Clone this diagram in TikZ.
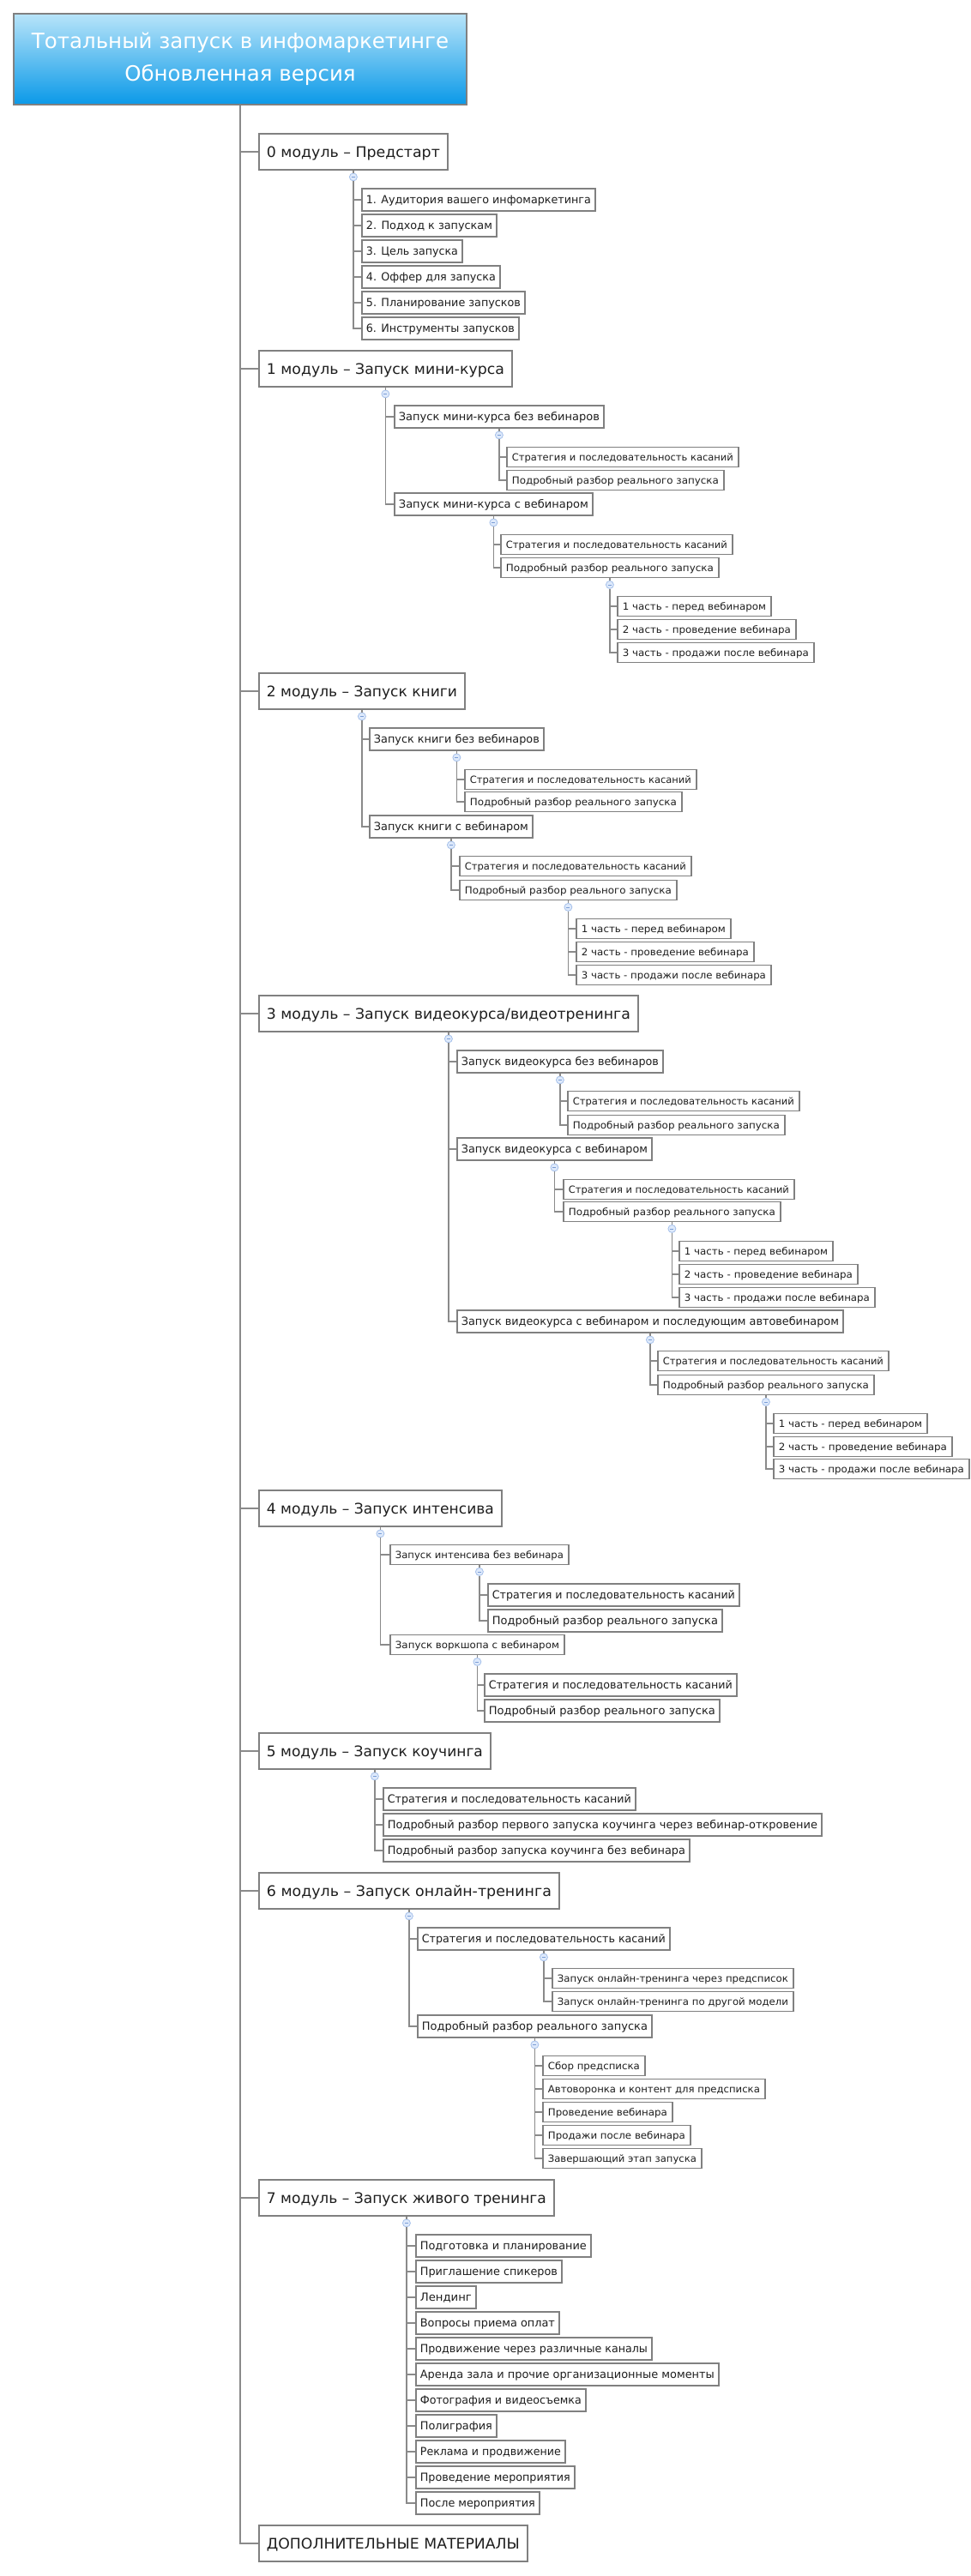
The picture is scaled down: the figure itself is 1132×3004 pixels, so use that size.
\documentclass[tikz,border=0pt]{standalone}
\usepackage{fontspec}
\setmainfont{DejaVu Sans}
\usepackage{graphicx}
\definecolor{bordergray}{HTML}{808080}
\definecolor{linegray}{HTML}{8A8A8A}
\definecolor{txt}{HTML}{1E1E1E}
\definecolor{togfill}{HTML}{DDE9FB}
\definecolor{togdraw}{HTML}{A5C0EA}
\definecolor{togdash}{HTML}{7C9ED6}
\definecolor{titletop}{HTML}{B8E4F9}
\definecolor{titlebot}{HTML}{0A99E8}
\tikzset{
  boxbase/.style={draw=bordergray, line width=1.8pt, fill=white, anchor=west, inner xsep=0pt, inner ysep=0pt, text=txt},
  modbox/.style={boxbase, minimum height=42pt, font=\fontsize{17}{20}\selectfont, text height=12.4pt, text depth=0pt},
  cabox/.style={boxbase, minimum height=26pt, font=\fontsize{13}{15}\selectfont, text height=9.5pt, text depth=0pt},
  cbbox/.style={boxbase, minimum height=23pt, font=\fontsize{11.5}{13}\selectfont, text height=8.4pt, text depth=0pt},
  titlebox/.style={draw=bordergray, line width=2pt, top color=titletop, bottom color=titlebot, minimum width=528pt, minimum height=106pt, text=white, align=center, inner sep=0pt, font=\fontsize{24.5}{38}\selectfont},
  spine/.style={draw=linegray, line width=2pt},
  conn/.style={draw=linegray, line width=1.5pt},
  togg/.style={circle, minimum size=9pt, inner sep=0pt, draw=togdraw, fill=togfill, line width=0.8pt,
    path picture={\draw[togdash, line width=0.8pt] ([xshift=-2pt]path picture bounding box.center) -- ([xshift=2pt]path picture bounding box.center);}},
}
% style, name, x1, x2, y, text, pad
\newcommand\bx[7]{\node[#1] (#2) at (#3,#5) {\hbox to \dimexpr #4pt-#3pt\relax{\hskip #7pt\resizebox{\dimexpr #4pt-#3pt-#7pt-#7pt\relax}{\height}{#6}\hss}};}
\newcommand\Mb[5]{\bx{modbox}{#1}{#2}{#3}{#4}{#5}{9}}
\newcommand\Ab[5]{\bx{cabox}{#1}{#2}{#3}{#4}{#5}{5}}
\newcommand\Bb[5]{\bx{cbbox}{#1}{#2}{#3}{#4}{#5}{6}}
\newcommand\tog[1]{\node[togg] (#1t) at ([yshift=-7.5pt]#1.south) {};\draw[conn] (#1.south) -- (#1t.north);}
\newcommand\kids[2]{\foreach \k in {#2} {\draw[conn] (#1t.south) |- (\k.west);}}
\begin{document}
\begin{tikzpicture}[x=1pt,y=-1pt]
\fill[white] (0,0) rectangle (1132,3004);
\useasboundingbox (0,0) rectangle (1132,3004);

\node[titlebox] (title) at (280,69) {Тотальный запуск в инфомаркетинге\\Обновленная версия};

% module 0
\Mb{m0}{301}{521}{177}{0 модуль – Предстарт}
\Ab{a01}{421}{693}{233}{1. Аудитория вашего инфомаркетинга}
\Ab{a02}{421}{578}{263}{2. Подход к запускам}
\Ab{a03}{421}{538}{293}{3. Цель запуска}
\Ab{a04}{421}{582}{323}{4. Оффер для запуска}
\Ab{a05}{421}{611}{353}{5. Планирование запусков}
\Ab{a06}{421}{604}{383}{6. Инструменты запусков}
\tog{m0}\kids{m0}{a01,a02,a03,a04,a05,a06}

% module 1
\Mb{m1}{301}{596}{430}{1 модуль – Запуск мини-курса}
\Ab{m1a}{459}{703}{486}{Запуск мини-курса без вебинаров}
\Bb{m1a1}{590}{860}{533}{Стратегия и последовательность касаний}
\Bb{m1a2}{590}{843}{560}{Подробный разбор реального запуска}
\Ab{m1b}{459}{690}{588}{Запуск мини-курса с вебинаром}
\Bb{m1b1}{583}{853}{635}{Стратегия и последовательность касаний}
\Bb{m1b2}{583}{837}{662}{Подробный разбор реального запуска}
\Bb{m1b2a}{719}{898}{707}{1 часть - перед вебинаром}
\Bb{m1b2b}{719}{927}{734}{2 часть - проведение вебинара}
\Bb{m1b2c}{719}{948}{761}{3 часть - продажи после вебинара}
\tog{m1}\kids{m1}{m1a,m1b}
\tog{m1a}\kids{m1a}{m1a1,m1a2}
\tog{m1b}\kids{m1b}{m1b1,m1b2}
\tog{m1b2}\kids{m1b2}{m1b2a,m1b2b,m1b2c}

% module 2
\Mb{m2}{301}{541}{806}{2 модуль – Запуск книги}
\Ab{m2a}{430}{633}{862}{Запуск книги без вебинаров}
\Bb{m2a1}{541}{811}{909}{Стратегия и последовательность касаний}
\Bb{m2a2}{541}{794}{935}{Подробный разбор реального запуска}
\Ab{m2b}{430}{620}{964}{Запуск книги с вебинаром}
\Bb{m2b1}{535}{805}{1010}{Стратегия и последовательность касаний}
\Bb{m2b2}{535}{788}{1038}{Подробный разбор реального запуска}
\Bb{m2b2a}{671}{851}{1083}{1 часть - перед вебинаром}
\Bb{m2b2b}{671}{878}{1110}{2 часть - проведение вебинара}
\Bb{m2b2c}{671}{898}{1137}{3 часть - продажи после вебинара}
\tog{m2}\kids{m2}{m2a,m2b}
\tog{m2a}\kids{m2a}{m2a1,m2a2}
\tog{m2b}\kids{m2b}{m2b1,m2b2}
\tog{m2b2}\kids{m2b2}{m2b2a,m2b2b,m2b2c}

% module 3
\Mb{m3}{301}{743}{1182}{3 модуль – Запуск видеокурса/видеотренинга}
\Ab{m3a}{532}{772}{1238}{Запуск видеокурса без вебинаров}
\Bb{m3a1}{661}{931}{1284}{Стратегия и последовательность касаний}
\Bb{m3a2}{661}{914}{1312}{Подробный разбор реального запуска}
\Ab{m3b}{532}{759}{1340}{Запуск видеокурса с вебинаром}
\Bb{m3b1}{656}{925}{1387}{Стратегия и последовательность касаний}
\Bb{m3b2}{656}{909}{1413}{Подробный разбор реального запуска}
\Bb{m3b2a}{791}{970}{1459}{1 часть - перед вебинаром}
\Bb{m3b2b}{791}{999}{1486}{2 часть - проведение вебинара}
\Bb{m3b2c}{791}{1019}{1513}{3 часть - продажи после вебинара}
\Ab{m3c}{532}{982}{1541}{Запуск видеокурса с вебинаром и последующим автовебинаром}
\Bb{m3c1}{766}{1035}{1587}{Стратегия и последовательность касаний}
\Bb{m3c2}{766}{1018}{1615}{Подробный разбор реального запуска}
\Bb{m3c2a}{901}{1080}{1660}{1 часть - перед вебинаром}
\Bb{m3c2b}{901}{1109}{1687}{2 часть - проведение вебинара}
\Bb{m3c2c}{901}{1129}{1713}{3 часть - продажи после вебинара}
\tog{m3}\kids{m3}{m3a,m3b,m3c}
\tog{m3a}\kids{m3a}{m3a1,m3a2}
\tog{m3b}\kids{m3b}{m3b1,m3b2}
\tog{m3b2}\kids{m3b2}{m3b2a,m3b2b,m3b2c}
\tog{m3c}\kids{m3c}{m3c1,m3c2}
\tog{m3c2}\kids{m3c2}{m3c2a,m3c2b,m3c2c}

% module 4
\Mb{m4}{301}{584}{1759}{4 модуль – Запуск интенсива}
\Bb{m4a}{454}{662}{1813}{Запуск интенсива без вебинара}
\Ab{m4a1}{568}{861}{1860}{Стратегия и последовательность касаний}
\Ab{m4a2}{568}{841}{1890}{Подробный разбор реального запуска}
\Bb{m4b}{454}{657}{1918}{Запуск воркшопа с вебинаром}
\Ab{m4b1}{564}{858}{1965}{Стратегия и последовательность касаний}
\Ab{m4b2}{564}{838}{1995}{Подробный разбор реального запуска}
\tog{m4}\kids{m4}{m4a,m4b}
\tog{m4a}\kids{m4a}{m4a1,m4a2}
\tog{m4b}\kids{m4b}{m4b1,m4b2}

% module 5
\Mb{m5}{301}{571}{2042}{5 модуль – Запуск коучинга}
\Ab{m51}{446}{740}{2098}{Стратегия и последовательность касаний}
\Ab{m52}{446}{957}{2128}{Подробный разбор первого запуска коучинга через вебинар-откровение}
\Ab{m53}{446}{803}{2158}{Подробный разбор запуска коучинга без вебинара}
\tog{m5}\kids{m5}{m51,m52,m53}

% module 6
\Mb{m6}{301}{651}{2205}{6 модуль – Запуск онлайн-тренинга}
\Ab{m6a}{486}{780}{2261}{Стратегия и последовательность касаний}
\Bb{m6a1}{643}{924}{2307}{Запуск онлайн-тренинга через предсписок}
\Bb{m6a2}{643}{924}{2334}{Запуск онлайн-тренинга по другой модели}
\Ab{m6b}{486}{759}{2363}{Подробный разбор реального запуска}
\Bb{m6b1}{632}{751}{2409}{Сбор предсписка}
\Bb{m6b2}{632}{891}{2436}{Автоворонка и контент для предсписка}
\Bb{m6b3}{632}{783}{2463}{Проведение вебинара}
\Bb{m6b4}{632}{804}{2490}{Продажи после вебинара}
\Bb{m6b5}{632}{817}{2517}{Завершающий этап запуска}
\tog{m6}\kids{m6}{m6a,m6b}
\tog{m6a}\kids{m6a}{m6a1,m6a2}
\tog{m6b}\kids{m6b}{m6b1,m6b2,m6b3,m6b4,m6b5}

% module 7
\Mb{m7}{301}{645}{2563}{7 модуль – Запуск живого тренинга}
\Ab{m71}{484}{688}{2619}{Подготовка и планирование}
\Ab{m72}{484}{654}{2649}{Приглашение спикеров}
\Ab{m73}{484}{554}{2679}{Лендинг}
\Ab{m74}{484}{651}{2709}{Вопросы приема оплат}
\Ab{m75}{484}{759}{2739}{Продвижение через различные каналы}
\Ab{m76}{484}{837}{2769}{Аренда зала и прочие организационные моменты}
\Ab{m77}{484}{682}{2799}{Фотография и видеосъемка}
\Ab{m78}{484}{578}{2829}{Полиграфия}
\Ab{m79}{484}{658}{2859}{Реклама и продвижение}
\Ab{m710}{484}{669}{2889}{Проведение мероприятия}
\Ab{m711}{484}{628}{2919}{После мероприятия}
\tog{m7}\kids{m7}{m71,m72,m73,m74,m75,m76,m77,m78,m79,m710,m711}

% extra
\Mb{m8}{301}{614}{2966}{ДОПОЛНИТЕЛЬНЫЕ МАТЕРИАЛЫ}

\foreach \m in {m0,m1,m2,m3,m4,m5,m6,m7,m8} {\draw[spine] (title.south) |- (\m.west);}
\end{tikzpicture}
\end{document}
